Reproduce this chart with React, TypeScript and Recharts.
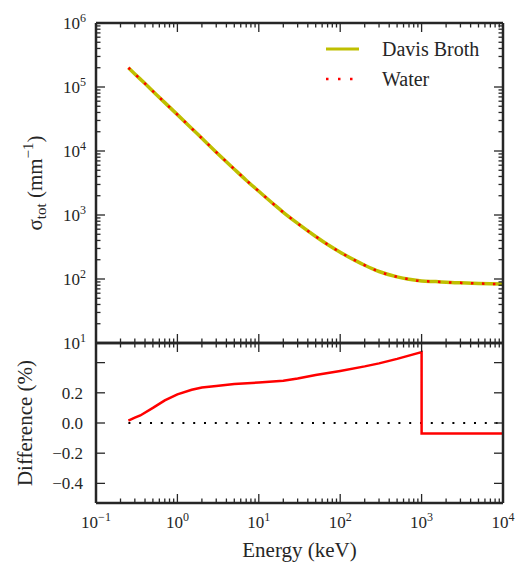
import React from "react";
import { LineChart, Line, XAxis, YAxis, ReferenceLine, Legend } from "recharts";

// upper panel: total cross-section (mm^-1) vs photon energy (keV)
const energyKeV = [0.25, 0.3, 0.4, 0.5, 0.7, 1, 1.5, 2, 3, 5, 7, 10, 15, 20, 30, 50, 70, 100, 150, 200, 300, 500, 700, 1000, 1500, 2000, 3000, 5000, 7000, 10000];
const davisBrothSigma = [2.0e5, 1.6e5, 1.13e5, 8.6e4, 5.7e4, 3.7e4, 2.25e4, 1.58e4, 9.6e3, 5.2e3, 3.5e3, 2.35e3, 1.5e3, 1.1e3, 740, 462, 346, 262, 197, 164, 131, 108, 99, 93, 91, 89, 87, 85, 84, 83.5];
const waterSigma = [2.0e5, 1.6e5, 1.13e5, 8.6e4, 5.7e4, 3.7e4, 2.25e4, 1.58e4, 9.6e3, 5.2e3, 3.5e3, 2.35e3, 1.5e3, 1.1e3, 740, 462, 346, 262, 197, 164, 131, 108, 99, 93, 91, 89, 87, 85, 84, 83.5];

// lower panel: relative difference (%)
const diffEnergyKeV = [0.25, 0.3, 0.35, 0.5, 0.7, 1, 1.5, 2, 3, 5, 10, 20, 30, 50, 100, 200, 300, 500, 1000, 1000, 2000, 5000, 10000];
const diffPercent = [0.015, 0.035, 0.05, 0.1, 0.15, 0.19, 0.22, 0.235, 0.245, 0.258, 0.268, 0.28, 0.295, 0.318, 0.345, 0.375, 0.395, 0.425, 0.47, -0.07, -0.07, -0.07, -0.07];
const zeroLineFrom = 0.25;

// axes
const energyDecades = [0.1, 1, 10, 100, 1000, 10000];
const sigmaDecades = [10, 100, 1000, 10000, 100000, 1000000];
const diffTicks = [-0.4, -0.2, 0, 0.2, 0.4];
const diffUnlabeled = [0.4];
const diffDomain = [-0.53, 0.53];

const seriesNames = ["Davis Broth", "Water"];
const seriesColors = ["#bfbf00", "#ff0000"];

const FONT = "'Liberation Serif', 'Times New Roman', serif";
const INK = "#262626";
const SPINE = { stroke: INK, strokeWidth: 2.5 };

const withMinors = (decades: number[]) =>
  decades.flatMap((d, i) =>
    i < decades.length - 1 ? [d, ...[2, 3, 4, 5, 6, 7, 8, 9].map((k) => k * d)] : [d]
  );
const energyTicks = withMinors(energyDecades);
const sigmaTicks = withMinors(sigmaDecades);

const isDecade = (v: number) => Math.abs(Math.log10(v) - Math.round(Math.log10(v))) < 1e-6;
const expText = (v: number) => {
  const e = Math.round(Math.log10(v));
  return e < 0 ? `\u2212${-e}` : `${e}`;
};

const sigmaData = energyKeV.map((e, i) => ({
  energy: e,
  davis: davisBrothSigma[i],
  water: waterSigma[i],
}));
const diffData = diffEnergyKeV.map((e, i) => ({ energy: e, diff: diffPercent[i] }));

const PowerLabel = ({ x, y, value, anchor }: any) => (
  <text x={x} y={y} textAnchor={anchor} style={{ fontFamily: FONT }} fontSize={17} fill={INK}>
    10
    <tspan dy={-7} fontSize={12}>
      {expText(value)}
    </tspan>
  </text>
);

// side = where the spine is; ticks always point into the plot
const makeTick =
  (side: "bottom" | "top" | "left" | "right", log: boolean, label?: "logX" | "logY" | "linY") =>
  (props: any) => {
    const { x, y, payload } = props;
    const v = payload.value;
    const len = !log || isDecade(v) ? 9 : 4.5;
    let line;
    if (side === "bottom") line = <line x1={x} x2={x} y1={y} y2={y - len} />;
    else if (side === "top") line = <line x1={x} x2={x} y1={y} y2={y + len} />;
    else if (side === "left") line = <line x1={x} x2={x + len} y1={y} y2={y} />;
    else line = <line x1={x} x2={x - len} y1={y} y2={y} />;

    let text = null;
    if (label === "logX" && isDecade(v)) text = <PowerLabel x={x} y={y + 25} value={v} anchor="middle" />;
    if (label === "logY" && isDecade(v)) text = <PowerLabel x={x - 10} y={y + 6} value={v} anchor="end" />;
    if (label === "linY" && !diffUnlabeled.includes(v))
      text = (
        <text x={x - 13} y={y + 6} textAnchor="end" style={{ fontFamily: FONT }} fontSize={17} fill={INK}>
          {v < 0 ? `\u2212${Math.abs(v).toFixed(1)}` : v.toFixed(1)}
        </text>
      );
    return (
      <g>
        <g stroke={INK} strokeWidth={1.3}>{line}</g>
        {text}
      </g>
    );
  };

const renderLegend = () => (
  <svg width={190} height={62}>
    <line x1={6} x2={39} y1={15} y2={15} stroke={seriesColors[0]} strokeWidth={3} />
    <text x={62} y={22} style={{ fontFamily: FONT }} fontSize={20} fill={INK}>
      {seriesNames[0]}
    </text>
    <line x1={6} x2={35} y1={45} y2={45} stroke={seriesColors[1]} strokeWidth={2.5} strokeDasharray="2.5 9.5" />
    <text x={62} y={52} style={{ fontFamily: FONT }} fontSize={20} fill={INK}>
      {seriesNames[1]}
    </text>
  </svg>
);

const abs: React.CSSProperties = { position: "absolute", left: 0, top: 0 };

const axisCommon = {
  interval: 0 as const,
  tickSize: 0,
  tickMargin: 0,
  axisLine: SPINE,
  allowDataOverflow: true,
};

export default function App() {
  return (
    <div style={{ ...abs, width: 515, height: 567, background: "#fff", fontFamily: FONT }}>
      <div style={abs}>
        <LineChart width={515} height={567} data={sigmaData} margin={{ top: 22, right: 11, bottom: 223, left: 95 }}>
          <XAxis xAxisId="b" dataKey="energy" type="number" scale="log" domain={[0.1, 10000]} ticks={energyTicks}
            height={1} {...axisCommon} tick={makeTick("bottom", true)} />
          <XAxis xAxisId="t" orientation="top" dataKey="energy" type="number" scale="log" domain={[0.1, 10000]} ticks={energyTicks}
            height={1} {...axisCommon} tick={makeTick("top", true)} />
          <YAxis yAxisId="l" type="number" scale="log" domain={[10, 1000000]} ticks={sigmaTicks}
            width={1} {...axisCommon} tick={makeTick("left", true, "logY")} />
          <YAxis yAxisId="r" orientation="right" type="number" scale="log" domain={[10, 1000000]} ticks={sigmaTicks}
            width={1} {...axisCommon} tick={makeTick("right", true)} />
          <Legend layout="vertical" align="center" verticalAlign="middle" content={renderLegend}
            wrapperStyle={{ left: 320, top: 34, width: 190, height: 62 }} />
          <Line xAxisId="b" yAxisId="l" type="monotone" dataKey="davis" name={seriesNames[0]}
            stroke={seriesColors[0]} strokeWidth={3.5} dot={false} isAnimationActive={false} />
          <Line xAxisId="b" yAxisId="l" type="monotone" dataKey="water" name={seriesNames[1]}
            stroke={seriesColors[1]} strokeWidth={2.5} strokeDasharray="2.5 8.5" dot={false} isAnimationActive={false} />
        </LineChart>
      </div>

      <div style={abs}>
        <LineChart width={515} height={567} data={diffData} margin={{ top: 342, right: 11, bottom: 63, left: 95 }}>
          <XAxis xAxisId="b" dataKey="energy" type="number" scale="log" domain={[0.1, 10000]} ticks={energyTicks}
            height={1} {...axisCommon} tick={makeTick("bottom", true, "logX")} />
          <XAxis xAxisId="t" orientation="top" dataKey="energy" type="number" scale="log" domain={[0.1, 10000]} ticks={energyTicks}
            height={1} {...axisCommon} tick={makeTick("top", true)} />
          <YAxis yAxisId="l" type="number" domain={diffDomain} ticks={diffTicks}
            width={1} {...axisCommon} tick={makeTick("left", false, "linY")} />
          <YAxis yAxisId="r" orientation="right" type="number" domain={diffDomain} ticks={diffTicks}
            width={1} {...axisCommon} tick={makeTick("right", false)} />
          <ReferenceLine xAxisId="b" yAxisId="l" segment={[{ x: zeroLineFrom, y: 0 }, { x: 10000, y: 0 }]}
            stroke="#000" strokeWidth={2} strokeDasharray="2 8.8" />
          <Line xAxisId="b" yAxisId="l" type="linear" dataKey="diff" stroke="#ff0000" strokeWidth={2.5}
            dot={false} isAnimationActive={false} />
        </LineChart>
      </div>

      {/* axis titles */}
      <svg style={{ ...abs, pointerEvents: "none", fontFamily: FONT }} width={515} height={567}>
        <text x={42} y={183} transform="rotate(-90 42 183)" textAnchor="middle" fontSize={21} fill={INK}>
          σ<tspan dy={4} fontSize={15}>tot</tspan>
          <tspan dy={-4}> (mm</tspan>
          <tspan dy={-9} fontSize={15}>{"\u22121"}</tspan>
          <tspan dy={9}>)</tspan>
        </text>
        <text x={32} y={423} transform="rotate(-90 32 423)" textAnchor="middle" fontSize={21} fill={INK}>
          Difference (%)
        </text>
        <text x={299.5} y={557} textAnchor="middle" fontSize={21} fill={INK}>
          Energy (keV)
        </text>
      </svg>
    </div>
  );
}
